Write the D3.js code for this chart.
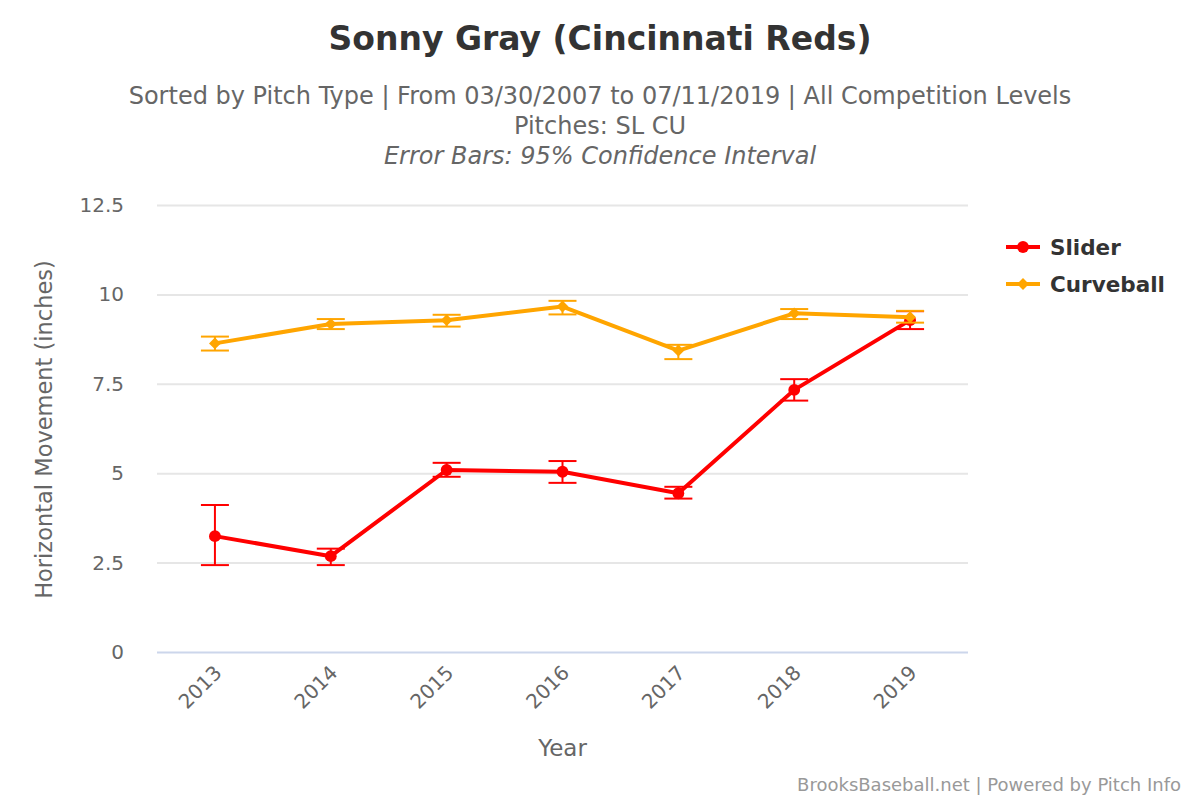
<!DOCTYPE html>
<html>
<head>
<meta charset="utf-8">
<script src="https://cdn.jsdelivr.net/npm/d3@7"></script>
<style>
  body { margin: 0; background: #fff; }
  text { font-family: "DejaVu Sans", sans-serif; }
</style>
</head>
<body>
<div id="chart-area"></div>
<script>
// DATA
let years = ["2013", "2014", "2015", "2016", "2017", "2018", "2019"]

let sliderMean = [3.24, 2.68, 5.09, 5.04, 4.44, 7.33, 9.28]
let sliderLow  = [2.43, 2.43, 4.90, 4.73, 4.29, 7.03, 9.03]
let sliderHigh = [4.11, 2.89, 5.29, 5.34, 4.62, 7.63, 9.53]

let curveMean = [8.63, 9.17, 9.28, 9.66, 8.43, 9.47, 9.36]
let curveLow  = [8.43, 9.03, 9.10, 9.44, 8.19, 9.31, 9.21]
let curveHigh = [8.82, 9.31, 9.43, 9.82, 8.59, 9.59, 9.54]

let yTicks = [0, 2.5, 5, 7.5, 10, 12.5]

let series = [
  { name: "Slider", color: "#ff0000", symbol: d3.symbolCircle, size: 110, mean: sliderMean, low: sliderLow, high: sliderHigh },
  { name: "Curveball", color: "#ffa500", symbol: d3.symbolDiamond2, size: 90, mean: curveMean, low: curveLow, high: curveHigh }
]

let svg = d3.select("#chart-area").append("svg")
            .attr("width", 1200)
            .attr("height", 800)

let plotLeft = 157, plotRight = 968, plotTop = 205, plotBottom = 652

let x = d3.scaleBand().domain(years).range([plotLeft, plotRight])
let y = d3.scaleLinear().domain([0, 12.5]).range([plotBottom, plotTop])

// titles
svg.append("text")
   .attr("x", 600).attr("y", 50)
   .attr("text-anchor", "middle")
   .attr("font-size", 33).attr("font-weight", "bold")
   .attr("fill", "#333")
   .text("Sonny Gray (Cincinnati Reds)")

svg.append("text")
   .attr("x", 600).attr("y", 104)
   .attr("text-anchor", "middle").attr("font-size", 24).attr("fill", "#666")
   .text("Sorted by Pitch Type | From 03/30/2007 to 07/11/2019 | All Competition Levels")
svg.append("text")
   .attr("x", 600).attr("y", 134)
   .attr("text-anchor", "middle").attr("font-size", 24).attr("fill", "#666")
   .text("Pitches: SL CU")
svg.append("text")
   .attr("x", 600).attr("y", 164)
   .attr("text-anchor", "middle").attr("font-size", 24).attr("fill", "#666")
   .attr("font-style", "italic")
   .text("Error Bars: 95% Confidence Interval")

// grid + y axis
let yAxis = svg.append("g")
   .attr("transform", "translate(" + plotLeft + ",0)")
   .call(d3.axisLeft(y).tickValues(yTicks).tickSize(-(plotRight - plotLeft)).tickPadding(33)
          .tickFormat(d => d3.format("")(d)))
yAxis.select(".domain").remove()
yAxis.selectAll(".tick line").attr("stroke", "#e6e6e6").attr("stroke-width", 2)
yAxis.selectAll(".tick text").attr("font-size", 20).attr("fill", "#666")
     .attr("font-family", "DejaVu Sans, sans-serif")
yAxis.selectAll(".tick").filter(d => d === 0).select("line").attr("stroke", "#ccd6eb")

// x axis
let xAxis = svg.append("g")
   .attr("transform", "translate(0," + plotBottom + ")")
   .call(d3.axisBottom(x).tickSize(0).tickPadding(0))
xAxis.select(".domain").remove()
xAxis.selectAll(".tick text")
     .attr("font-size", 20).attr("fill", "#666")
     .attr("font-family", "DejaVu Sans, sans-serif")
     .attr("text-anchor", "end")
     .attr("dy", 0)
     .attr("transform", "translate(8,22) rotate(-45)")

svg.append("text")
   .attr("x", (plotLeft + plotRight) / 2).attr("y", 756)
   .attr("text-anchor", "middle").attr("font-size", 23).attr("fill", "#666")
   .text("Year")

svg.append("text")
   .attr("transform", "translate(52," + ((plotTop + plotBottom) / 2 + 1) + ") rotate(-90)")
   .attr("text-anchor", "middle").attr("font-size", 22.5).attr("fill", "#666")
   .text("Horizontal Movement (inches)")

// series
let line = d3.line()
             .x((d, i) => x(years[i]) + x.bandwidth() / 2)
             .y(d => y(d))

series.forEach(s => {
  let g = svg.append("g")

  g.append("path")
   .attr("d", line(s.mean))
   .attr("fill", "none")
   .attr("stroke", s.color)
   .attr("stroke-width", 4)
   .attr("stroke-linejoin", "round")

  g.selectAll("marker")
   .data(s.mean)
   .enter()
   .append("path")
   .attr("d", d3.symbol().type(s.symbol).size(s.size))
   .attr("transform", (d, i) => "translate(" + (x(years[i]) + x.bandwidth() / 2) + "," + y(d) + ")")
   .attr("fill", s.color)

  let bars = g.selectAll("errbar")
              .data(s.mean)
              .enter()
              .append("g")
              .attr("stroke", s.color)
              .attr("stroke-width", 2)

  bars.append("line")
      .attr("x1", (d, i) => x(years[i]) + x.bandwidth() / 2)
      .attr("x2", (d, i) => x(years[i]) + x.bandwidth() / 2)
      .attr("y1", (d, i) => y(s.low[i]))
      .attr("y2", (d, i) => y(s.high[i]))
  bars.append("line")
      .attr("x1", (d, i) => x(years[i]) + x.bandwidth() / 2 - 14)
      .attr("x2", (d, i) => x(years[i]) + x.bandwidth() / 2 + 14)
      .attr("y1", (d, i) => y(s.low[i]))
      .attr("y2", (d, i) => y(s.low[i]))
  bars.append("line")
      .attr("x1", (d, i) => x(years[i]) + x.bandwidth() / 2 - 14)
      .attr("x2", (d, i) => x(years[i]) + x.bandwidth() / 2 + 14)
      .attr("y1", (d, i) => y(s.high[i]))
      .attr("y2", (d, i) => y(s.high[i]))
})

// legend
let legend = svg.selectAll(".legend")
                .data(series)
                .enter()
                .append("g")
                .attr("transform", (d, i) => "translate(1006," + (247 + i * 37) + ")")

legend.append("line")
      .attr("x1", 0).attr("x2", 34)
      .attr("stroke", d => d.color).attr("stroke-width", 4)
legend.append("path")
      .attr("d", d => d3.symbol().type(d.symbol).size(d.size)())
      .attr("transform", "translate(17,0)")
      .attr("fill", d => d.color)
legend.append("text")
      .attr("x", 44).attr("y", 8)
      .attr("font-size", 21.5).attr("font-weight", "bold").attr("fill", "#333")
      .text(d => d.name)

svg.append("text")
   .attr("x", 1181).attr("y", 791)
   .attr("text-anchor", "end").attr("font-size", 18).attr("fill", "#999")
   .text("BrooksBaseball.net | Powered by Pitch Info")
</script>
</body>
</html>
